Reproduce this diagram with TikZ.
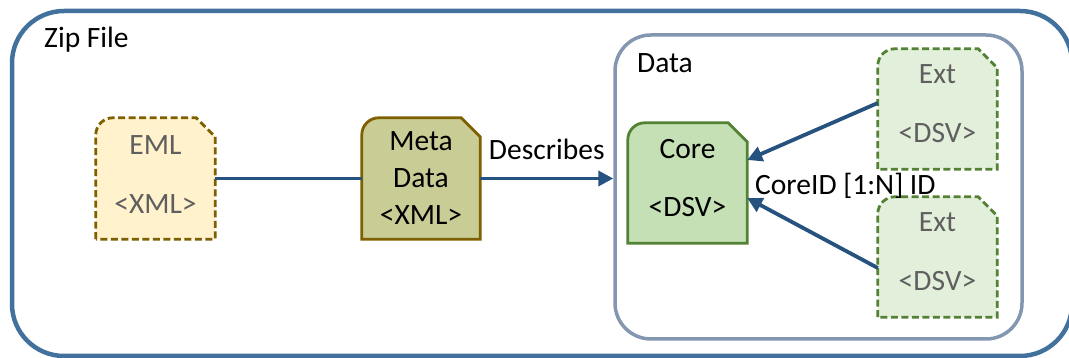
\documentclass[tikz,border=0pt]{standalone}
\usepackage{fontspec}
\setmainfont{Carlito}
\usetikzlibrary{arrows.meta}
\definecolor{zipc}{HTML}{41719C}
\definecolor{datac}{HTML}{8497B0}
\definecolor{arrowc}{HTML}{25527F}
\definecolor{emlfill}{HTML}{FFF2CC}
\definecolor{brownc}{HTML}{7F6000}
\definecolor{metafill}{HTML}{C9CC94}
\definecolor{corefill}{HTML}{C5E0B4}
\definecolor{greenc}{HTML}{548235}
\definecolor{extfill}{HTML}{E2EFDA}
\definecolor{graytext}{HTML}{5F5F5F}
\pgfdeclarelayer{bg}
\pgfsetlayers{bg,main}
\newcommand{\docshape}[2]{%
  \draw[#2] (#1.south west) -- ([yshift=-17pt]#1.north west)
    arc[start angle=180,end angle=90,radius=17pt]
    -- ([xshift=-19pt]#1.north east) -- ([yshift=-19pt]#1.north east)
    -- (#1.south east) -- cycle;}
\newcommand{\lowstrut}[1]{\rule[-#1]{0pt}{0pt}}
\tikzset{
  x=1pt, y=1pt,
  docbox/.style={minimum width=119pt, minimum height=121pt, inner sep=0pt, align=center},
  bigtext/.style={font=\fontsize{29.5}{35}\selectfont},
  conn/.style={draw=arrowc, line width=3.8pt},
  arr/.style={conn, -{Triangle[length=15pt,width=15pt]}},
  dashedline/.style={dash pattern=on 7pt off 3.5pt, line width=2.8pt},
  solidline/.style={line width=2.8pt},
}
\begin{document}
\begin{tikzpicture}
\useasboundingbox (0,0) rectangle (1069,358);
\node[draw=zipc, line width=4.5pt, rounded corners=52pt, minimum width=1060pt, minimum height=345pt, inner sep=0pt] (zip) at (542,174.5) {};
\node[draw=datac, line width=3.5pt, rounded corners=36pt, minimum width=407pt, minimum height=304pt, inner sep=0pt] (data) at (818.5,171) {};
\node[bigtext, anchor=base west, inner sep=0pt] (ziplabel) at (44,310) {Zip File};
\node[bigtext, anchor=base west, inner sep=0pt] (datalabel) at (637,285) {Data};

\node[docbox, text=graytext, font=\fontsize{29.5}{59}\selectfont] (eml) at (155.5,179.5) {EML\\<XML>\lowstrut{8pt}};
\node[docbox, minimum width=118pt, font=\fontsize{29.5}{37}\selectfont] (meta) at (421,179.5) {Meta\\Data\\<XML>};
\node[docbox, minimum height=120pt, font=\fontsize{29.5}{58}\selectfont] (core) at (687.5,175) {Core\\<DSV>\lowstrut{10pt}};
\node[docbox, minimum height=120pt, text=graytext, font=\fontsize{29.5}{59}\selectfont] (ext1) at (937.5,249) {Ext\\<DSV>\lowstrut{10pt}};
\node[docbox, minimum height=120pt, text=graytext, font=\fontsize{29.5}{59}\selectfont] (ext2) at (937.5,101) {Ext\\<DSV>\lowstrut{10pt}};

\begin{pgfonlayer}{bg}
\docshape{eml}{fill=emlfill, draw=brownc, dashedline}
\docshape{meta}{fill=metafill, draw=brownc, solidline}
\docshape{core}{fill=corefill, draw=greenc, solidline}
\docshape{ext1}{fill=extfill, draw=greenc, dashedline}
\docshape{ext2}{fill=extfill, draw=greenc, dashedline}
\end{pgfonlayer}

\draw[conn] (eml.east) -- (meta.west);
\draw[arr] (meta.east) -- node[bigtext, above=16.5pt, inner sep=0pt] (desc) {Describes} (meta.east -| data.west);
\draw[arr] ([yshift=6pt]ext1.west) -- ([yshift=23pt]core.east);
\draw[arr] ([yshift=-11pt]ext2.west) -- ([yshift=-15pt]core.east);
\node[bigtext, anchor=base west, inner sep=0pt] (coreid) at (755,163) {CoreID [1:N] ID};
\end{tikzpicture}
\end{document}
